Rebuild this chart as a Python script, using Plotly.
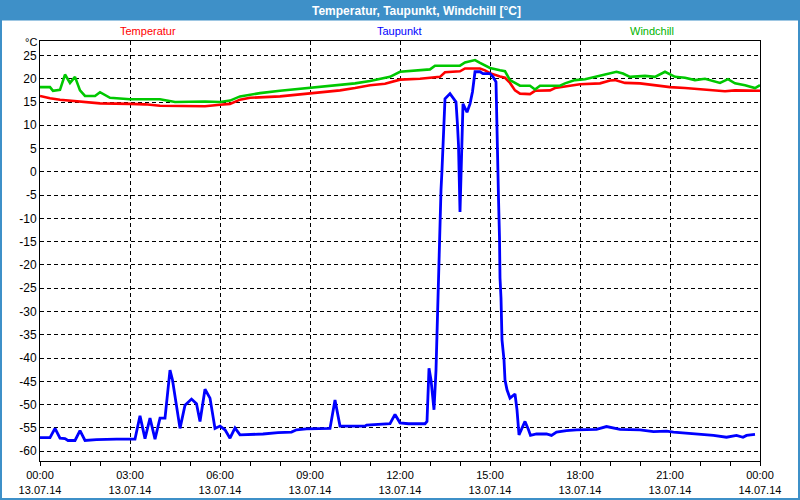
import plotly.graph_objects as go
from datetime import datetime, timedelta

# ---------------- data ----------------
temp_times = ["00:00", "00:20", "00:40", "01:00", "01:20", "01:40", "02:00", "03:00", "03:30", "04:00",
              "05:00", "05:30", "06:00", "06:20", "06:40", "07:00", "08:00", "08:30", "09:00", "09:30",
              "10:00", "10:30", "11:00", "11:30", "12:00", "12:40", "13:20", "13:30", "14:00", "14:10",
              "14:40", "14:50", "15:00", "15:20", "15:30", "15:40", "15:50", "16:00", "16:20", "16:30",
              "17:00", "17:10", "17:40", "18:00", "18:40", "19:00", "19:10", "19:30", "20:00", "20:30",
              "21:00", "21:30", "22:00", "22:50", "23:10", "24:00"]
temp_vals = [16.3, 15.8, 15.5, 15.3, 15.0, 14.9, 14.7, 14.6, 14.5, 14.2,
             14.1, 14.1, 14.4, 14.6, 15.5, 15.9, 16.2, 16.5, 16.8, 17.1,
             17.5, 18.0, 18.6, 18.9, 19.8, 20.0, 20.4, 21.4, 21.6, 22.2,
             22.2, 21.8, 21.2, 20.5, 20.2, 19.1, 17.5, 16.8, 16.7, 17.4,
             17.5, 18.0, 18.5, 18.8, 19.0, 19.6, 19.7, 19.1, 19.0, 18.6,
             18.2, 18.0, 17.7, 17.3, 17.5, 17.4]

wind_times = ["00:00", "00:20", "00:26", "00:40", "00:50", "01:00", "01:10", "01:20", "01:30", "01:50",
              "02:00", "02:20", "03:00", "04:00", "04:30", "05:00", "05:30", "06:00", "06:20", "06:40",
              "07:00", "07:20", "08:00", "08:30", "09:00", "09:30", "10:00", "10:30", "11:00", "11:20",
              "11:40", "12:00", "12:40", "13:00", "13:10", "14:00", "14:10", "14:30", "14:40", "14:50",
              "15:00", "15:20", "15:30", "15:40", "16:00", "16:20", "16:30", "16:40", "17:20", "17:30",
              "17:50", "18:10", "18:30", "19:00", "19:13", "19:26", "19:40", "20:10", "20:30", "20:50",
              "21:10", "21:30", "21:50", "22:10", "22:40", "22:56", "23:10", "23:30", "23:50", "24:00"]
wind_vals = [18.2, 18.2, 17.4, 17.6, 20.9, 19.1, 20.4, 17.5, 16.3, 16.3,
             17.1, 15.9, 15.6, 15.6, 15.0, 15.1, 15.1, 15.0, 15.3, 16.2,
             16.6, 16.9, 17.4, 17.7, 18.0, 18.3, 18.6, 19.0, 19.5, 19.9,
             20.4, 21.5, 21.8, 22.0, 22.8, 22.8, 23.5, 24.0, 23.4, 22.9,
             22.3, 21.8, 21.6, 19.7, 18.5, 18.5, 17.7, 18.5, 18.5, 19.0,
             19.7, 19.9, 20.4, 21.1, 21.5, 21.1, 20.4, 20.6, 20.4, 21.5,
             20.4, 20.2, 19.7, 20.0, 19.1, 19.9, 19.0, 18.6, 18.0, 18.6]

dew_times = ["00:00", "00:20", "00:30", "00:40", "00:50", "00:56", "01:10", "01:20", "01:30", "01:53",
             "02:33", "03:10", "03:20", "03:30", "03:40", "03:50", "04:00", "04:10", "04:20", "04:25",
             "04:40", "04:50", "05:03", "05:13", "05:20", "05:30", "05:40", "05:50", "06:00", "06:10",
             "06:20", "06:30", "06:40", "07:26", "07:56", "08:23", "08:33", "08:53", "09:40", "09:50",
             "10:00", "10:50", "10:53", "11:40", "11:50", "12:00", "12:17", "12:50", "12:54", "12:58",
             "13:02", "13:08", "13:12", "13:14", "13:16", "13:18", "13:20", "13:22", "13:24", "13:27",
             "13:30", "13:40", "13:52", "13:55", "13:57", "14:00", "14:03", "14:06", "14:14", "14:20",
             "14:25", "14:30", "14:40", "14:46", "15:00", "15:06", "15:12", "15:15", "15:17", "15:19",
             "15:20", "15:22", "15:24", "15:28", "15:30", "15:34", "15:40", "15:50", "15:54", "15:58",
             "16:03", "16:10", "16:17", "16:21", "16:33", "16:53", "17:03", "17:13", "17:33", "17:53",
             "18:33", "18:53", "19:20", "20:00", "20:27", "20:53", "21:07", "21:33", "22:27", "22:53",
             "23:13", "23:26", "23:33", "23:50"]
dew_vals = [-57.1, -57.1, -55.1, -57.2, -57.3, -57.7, -57.7, -55.6, -57.7, -57.5,
            -57.4, -57.4, -52.4, -57.3, -52.9, -57.4, -52.9, -52.9, -42.6, -44.7,
            -55.1, -50.1, -48.8, -49.8, -53.6, -46.7, -48.6, -55.1, -54.6, -55.4,
            -57.2, -55.0, -56.5, -56.3, -56.0, -55.9, -55.4, -55.2, -55.1, -49.0,
            -54.6, -54.6, -54.4, -54.1, -52.1, -53.9, -54.1, -54.1, -53.6, -42.2,
            -44.7, -51.1, -42.6, -34.3, -25.7, -17.2, -8.6, -3.9, 0.4, 10.4,
            15.7, 16.8, 15.0, 10.0, 5.7, -8.6, 5.0, 14.6, 12.8, 14.6,
            17.2, 21.5, 21.5, 21.1, 21.1, 20.4, 19.3, 0.4, -5.6, -14.2,
            -22.8, -27.1, -36.1, -40.4, -44.7, -46.8, -48.6, -47.7, -51.1, -56.5,
            -55.4, -53.6, -55.4, -56.6, -56.3, -56.3, -56.6, -55.9, -55.6, -55.4,
            -55.3, -54.7, -55.3, -55.4, -55.8, -55.7, -55.9, -56.1, -56.6, -57.0,
            -56.6, -57.0, -56.6, -56.4]

y_ticks = list(range(-60, 30, 5))
x_tick_hours = [0, 3, 6, 9, 12, 15, 18, 21, 24]

DAY = datetime(2014, 7, 13)


def to_dt(s):
    h, m = s.split(":")
    return DAY + timedelta(hours=int(h), minutes=int(m))


W, H = 800, 500
L, R, T, B = 40, 40, 41, 39
PW, PH = W - L - R, H - T - B


def px(xp):
    return (xp - L) / PW


def py(yp):
    return (H - B - yp) / PH


fig = go.Figure()
fig.add_trace(go.Scatter(x=[to_dt(t) for t in temp_times], y=temp_vals, mode="lines",
                         line=dict(color="#FF0000", width=2.6), name="Temperatur"))
fig.add_trace(go.Scatter(x=[to_dt(t) for t in wind_times], y=wind_vals, mode="lines",
                         line=dict(color="#00C800", width=2.6), name="Windchill"))
fig.add_trace(go.Scatter(x=[to_dt(t) for t in dew_times], y=dew_vals, mode="lines",
                         line=dict(color="#0000FF", width=2.8), name="Taupunkt"))

tickvals = [DAY + timedelta(hours=h) for h in x_tick_hours]
ticktext = [d.strftime("%H:%M") + "<br>" + d.strftime("%d.%m.%y") for d in tickvals]

font = "Liberation Sans, Arial, sans-serif"

fig.update_layout(
    width=W, height=H,
    margin=dict(l=L, r=R, t=T, b=B, autoexpand=False),
    paper_bgcolor="white", plot_bgcolor="white",
    showlegend=False,
    font=dict(family=font, size=11, color="black"),
    xaxis=dict(
        range=[DAY, DAY + timedelta(days=1)],
        tickvals=tickvals, ticktext=ticktext,
        ticks="outside", ticklen=4, tickcolor="black", tickwidth=1,
        automargin=False,
        minor=dict(dtick=3600000, ticks="outside", ticklen=4, tickcolor="black", showgrid=False),
        showgrid=True, gridcolor="black", gridwidth=1, griddash="4px,3px",
        showline=True, linecolor="black", linewidth=1, mirror=True,
        zeroline=False, tickfont=dict(size=11),
    ),
    yaxis=dict(
        range=[-62.1, 28.1], automargin=False,
        tickvals=y_ticks, ticktext=[str(v) for v in y_ticks],
        ticks="", showgrid=True, gridcolor="black", gridwidth=1, griddash="4px,3px",
        showline=True, linecolor="black", linewidth=1, mirror=True,
        zeroline=False, tickfont=dict(size=12),
    ),
)

shapes = [
    # title bar
    dict(type="rect", xref="paper", yref="paper", x0=px(0), x1=px(800), y0=py(20.5), y1=py(0),
         fillcolor="#3E90C8", line=dict(width=0), layer="above"),
    # frame borders of window
    dict(type="rect", xref="paper", yref="paper", x0=px(0), x1=px(2), y0=py(500), y1=py(0),
         fillcolor="#3E90C8", line=dict(width=0)),
    dict(type="rect", xref="paper", yref="paper", x0=px(798), x1=px(800), y0=py(500), y1=py(0),
         fillcolor="#3E90C8", line=dict(width=0)),
    dict(type="rect", xref="paper", yref="paper", x0=px(0), x1=px(800), y0=py(500), y1=py(498),
         fillcolor="#3E90C8", line=dict(width=0)),
]
fig.update_layout(shapes=shapes)

ann = [
    dict(text="<b>Temperatur, Taupunkt, Windchill [°C]</b>", x=px(416), y=py(10.5),
         font=dict(color="white", size=12, family=font)),
    dict(text="Temperatur", x=px(148), y=py(31), font=dict(color="#FF0000", size=11, family=font)),
    dict(text="Taupunkt", x=px(399), y=py(31), font=dict(color="#0000FF", size=11, family=font)),
    dict(text="Windchill", x=px(652), y=py(31), font=dict(color="#00B400", size=11, family=font)),
    dict(text="°C", x=px(31), y=py(42.5), font=dict(color="black", size=11, family=font)),
]
for a in ann:
    a.update(xref="paper", yref="paper", showarrow=False, xanchor="center", yanchor="middle")
fig.update_layout(annotations=ann)

fig.write_html("out.html")
